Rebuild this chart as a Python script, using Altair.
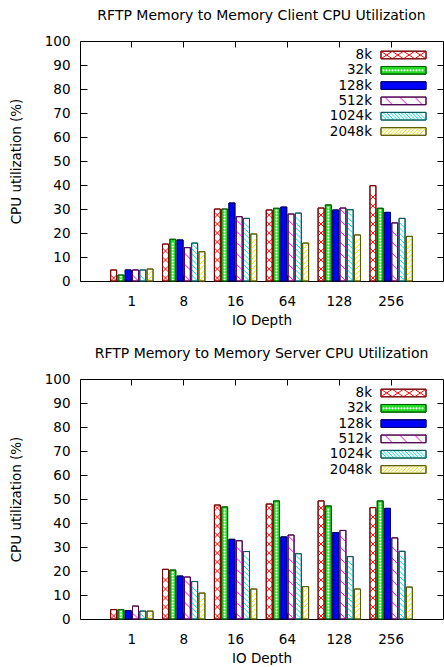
import altair as alt
import pandas as pd

depths = ["1", "8", "16", "64", "128", "256"]
sizes = ["8k", "32k", "128k", "512k", "1024k", "2048k"]

client_8k = [4.6, 15.4, 30.0, 29.6, 30.4, 39.7]
client_32k = [2.5, 17.4, 30.0, 30.3, 31.7, 30.3]
client_128k = [4.6, 17.1, 32.5, 30.8, 29.6, 28.6]
client_512k = [4.6, 13.9, 26.8, 27.9, 30.4, 24.2]
client_1024k = [4.6, 15.8, 26.1, 28.3, 29.7, 26.1]
client_2048k = [5.0, 12.2, 19.6, 15.8, 19.2, 18.6]

server_8k = [3.9, 20.7, 47.5, 47.9, 49.2, 46.4]
server_32k = [3.9, 20.4, 46.7, 49.2, 47.1, 49.2]
server_128k = [3.5, 17.9, 33.2, 34.2, 36.0, 46.1]
server_512k = [5.4, 17.5, 32.6, 35.0, 36.9, 33.8]
server_1024k = [3.3, 15.6, 28.1, 27.2, 26.0, 28.2]
server_2048k = [3.3, 10.8, 12.5, 13.5, 12.5, 13.3]

y_ticks = [0, 10, 20, 30, 40, 50, 60, 70, 80, 90, 100]

FONT = "DejaVu Sans"
FS = 13.5
W, H = 363, 240

fills = ["#ffffff", "#22dd22", "#0000ff", "#ffffff", "#ffffff", "#ffffff"]
strokes = ["#7a0000", "#006000", "#000070", "#500050", "#005a5a", "#5a5a00"]

XP = "M-1,-1L1,1M-1,1L1,-1"
BS = "M-1,-1L1,1"
FS_ = "M-1,1L1,-1"
DOT = "circle"
# bar pattern: colour, glyph path, glyph size, step (data units), filled
bar_pat = {
    "8k": ("#ff0000", XP, 36, 3.75, False),
    "32k": ("#ffffff", DOT, 5, 1.25, True),
    "512k": ("#ff00ff", BS, 36, 4.6, False),
    "1024k": ("#00e5e5", BS, 36, 2.2, False),
    "2048k": ("#e6e600", FS_, 36, 2.2, False),
}
# legend pattern: colour, path, size, start, step (legend x units, 0..45), filled
leg_pat = {
    "8k": ("#ff0000", "M-1.5,-1L1.5,1M-1.5,1L1.5,-1", 49, 5.6, 11.25, False),
    "32k": ("#ffffff", DOT, 5, 2.5, 3.0, True),
    "512k": ("#ff00ff", BS, 49, 7.5, 15, False),
    "1024k": ("#00e5e5", BS, 49, 2.0, 3.6, False),
    "2048k": ("#e6e600", FS_, 49, 2.0, 3.6, False),
}


def make_df(series):
    rows = []
    for s, vals in zip(sizes, series):
        for d, v in zip(depths, vals):
            rows.append({"depth": d, "size": s, "value": v})
    return pd.DataFrame(rows)


xscale = alt.Scale(type="band", domain=depths, paddingInner=0, paddingOuter=0.5)
xoscale = alt.Scale(type="band", domain=sizes, paddingInner=0.18, paddingOuter=0.65)
yscale = alt.Scale(domain=[0, 100], nice=False, zero=True)
fill_enc = alt.Color("size:N", scale=alt.Scale(domain=sizes, range=fills), legend=None)
stroke_enc = alt.Stroke("size:N", scale=alt.Scale(domain=sizes, range=strokes), legend=None)


def panel(title, series):
    df = make_df(series)
    base = alt.Chart(df)
    bars = base.mark_bar(strokeWidth=1).encode(
        x=alt.X("depth:N", scale=xscale, axis=alt.Axis(
            orient="bottom", offset=-6, tickSize=6, labelPadding=13, domain=False,
            bandPosition=0.5, labelAngle=0, title="IO Depth", titleX=W / 2, titleY=45,
            titleAlign="center", titleBaseline="middle")),
        xOffset=alt.XOffset("size:N", scale=xoscale),
        y=alt.Y("value:Q", scale=yscale, axis=alt.Axis(
            orient="left", offset=-7, tickSize=7, values=y_ticks, labelPadding=10,
            domain=False, title="CPU utilization (%)", titleX=-71, titleY=H / 2,
            titleAngle=-90, titleAlign="center", titleBaseline="middle")),
        color=fill_enc,
        stroke=stroke_enc,
    )
    pats = []
    for s, (col, path, sz, step, filled) in bar_pat.items():
        h = 1.25 if not filled else 0.6
        pats.append(
            base.transform_filter(alt.datum.size == s)
            .transform_calculate(seq=f"sequence({h}, datum.value - {h} + 0.01, {step})")
            .transform_flatten(["seq"])
            .mark_point(shape=path, size=sz, color=col, filled=filled, strokeWidth=1, opacity=1)
            .encode(
                x=alt.X("depth:N", scale=xscale, axis=None),
                xOffset=alt.XOffset("size:N", scale=xoscale),
                y=alt.Y("seq:Q", scale=yscale, axis=None),
            )
        )
    outline = base.mark_bar(fillOpacity=0, strokeWidth=1).encode(
        x=alt.X("depth:N", scale=xscale, axis=alt.Axis(
            orient="top", offset=-6, tickSize=6, labels=False, domain=False,
            bandPosition=0.5, title=None)),
        xOffset=alt.XOffset("size:N", scale=xoscale),
        y=alt.Y("value:Q", scale=yscale, axis=alt.Axis(
            orient="right", offset=-6, tickSize=6, labels=False, domain=False,
            values=y_ticks[1:-1], title=None)),
        stroke=stroke_enc,
    )
    inner = alt.layer(bars, *pats, outline).resolve_axis(x="independent", y="independent")

    ldf = pd.DataFrame({"size": sizes, "row": list(range(len(sizes)))})
    lbase = alt.Chart(ldf)
    lx = alt.Scale(domain=[0, 45], range=[W - 62, W - 17])
    ly = alt.Scale(domain=[0, 5], range=[14, 90.5])
    rect = lbase.transform_calculate(y0="datum.row - 0.25", y1="datum.row + 0.25").mark_rect(strokeWidth=1).encode(
        x=alt.X(datum=0, scale=lx, axis=None), x2=alt.X2(datum=45),
        y=alt.Y("y0:Q", scale=ly, axis=None), y2="y1:Q",
        color=fill_enc, stroke=stroke_enc,
    )
    lpats = []
    for s, (col, path, sz, start, step, filled) in leg_pat.items():
        lpats.append(
            lbase.transform_filter(alt.datum.size == s)
            .transform_calculate(lx=f"sequence({start}, 44.5, {step})")
            .transform_flatten(["lx"])
            .mark_point(shape=path, size=sz, color=col, filled=filled, strokeWidth=1, opacity=1)
            .encode(x=alt.X("lx:Q", scale=lx, axis=None), y=alt.Y("row:Q", scale=ly, axis=None))
        )
    rect_o = lbase.transform_calculate(y0="datum.row - 0.25", y1="datum.row + 0.25").mark_rect(
        fillOpacity=0, strokeWidth=1).encode(
        x=alt.X(datum=0, scale=lx, axis=None), x2=alt.X2(datum=45),
        y=alt.Y("y0:Q", scale=ly, axis=None), y2="y1:Q",
        stroke=stroke_enc,
    )
    text = lbase.mark_text(align="right", baseline="middle", font=FONT, fontSize=FS, color="black").encode(
        x=alt.value(W - 71), y=alt.Y("row:Q", scale=ly, axis=None), text="size:N")
    legend = alt.layer(rect, *lpats, rect_o, text)

    return alt.layer(inner, legend).resolve_scale(x="independent", y="independent").properties(
        width=W, height=H,
        title=alt.TitleParams(title, frame="group", anchor="middle", offset=11, font=FONT,
                              fontSize=14, fontWeight="normal", color="black"),
    )


chart = alt.vconcat(
    panel("RFTP Memory to Memory Client CPU Utilization",
          [client_8k, client_32k, client_128k, client_512k, client_1024k, client_2048k]),
    panel("RFTP Memory to Memory Server CPU Utilization",
          [server_8k, server_32k, server_128k, server_512k, server_1024k, server_2048k]),
    spacing=19,
).properties(
    padding={"left": 8, "top": 8, "right": 0, "bottom": 0},
    background="white",
).configure_view(stroke="black", strokeWidth=1).configure_axis(
    labelFont=FONT, labelFontSize=FS, labelColor="black", titleFont=FONT, titleFontSize=FS,
    titleFontWeight="normal", titleColor="black", tickColor="black", tickWidth=1, grid=False,
)

chart.save("out.html", embed_options={"renderer": "svg", "actions": False})
